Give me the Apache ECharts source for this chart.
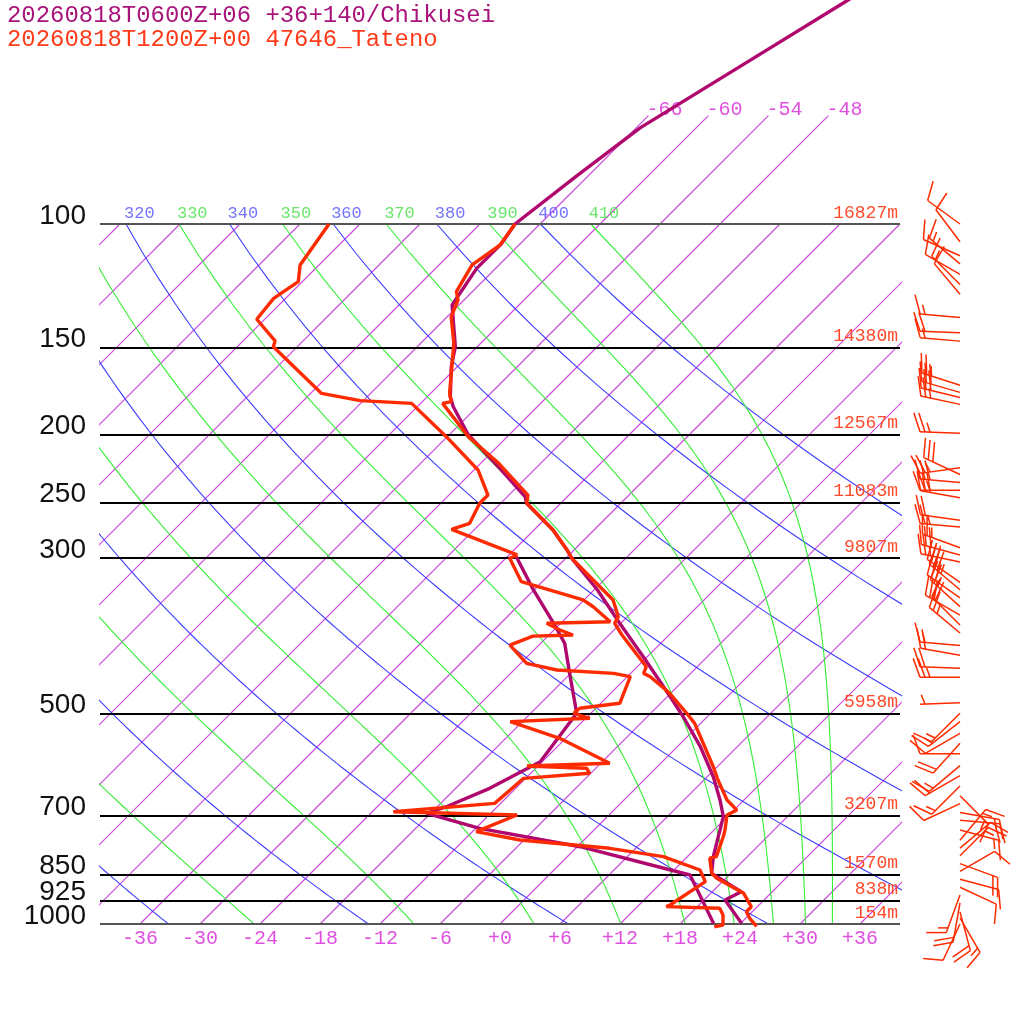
<!DOCTYPE html>
<html>
<head>
<meta charset="utf-8">
<script src="https://cdn.jsdelivr.net/npm/echarts@6/dist/echarts.min.js"></script>
<style>html,body{margin:0;padding:0;background:#fff}#chart{width:1024px;height:1024px}</style>
</head>
<body>
<div id="chart"></div>
<script>
const PURPLE = '#b0076e'
const RED = '#ff2b00'
const ISO_COLOR = '#cc44dc'
const ISO_LABEL = '#e050e0'
const DRY_COLOR = '#3c3cff'
const MOIST_COLOR = '#33ee33'
const MONO = 'Liberation Mono'

// axes / reference values
const tempTicks = [-36, -30, -24, -18, -12, -6, 0, 6, 12, 18, 24, 30, 36]
const pLevels = [100, 150, 200, 250, 300, 500, 700, 850, 925, 1000]
const heights = ['16827m', '14380m', '12567m', '11083m', '9807m', '5958m', '3207m', '1570m', '838m', '154m']
const topIsoT = [-66, -60, -54, -48]
const dryTheta = [240, 260, 280, 300, 320, 340, 360, 380, 400]
const moistTheta = [250, 270, 290, 310, 330, 350, 370, 390, 410]
const thetaLabels = [320, 330, 340, 350, 360, 370, 380, 390, 400, 410]

// Chikusei (model) profile
const chikuseiP = [47.1, 47.9, 59.1, 72.9, 85.1, 100, 106.6, 115.7, 130.5, 149.7, 159.9, 176.5, 182.4, 200, 222.2, 245.3, 250.6, 273.6, 292.2, 302, 333, 371.9, 415.1, 473.5, 505.7, 558, 616, 665, 702.5, 750.5, 801.3, 846.5, 899.4, 924, 998]
const chikuseiT = [-57.3, -57.6, -61.6, -65.6, -67.1, -68.5, -67.9, -67.9, -66.7, -62.2, -60.6, -57.7, -56.4, -52.1, -45.9, -40.2, -39.4, -34.1, -30.7, -29.1, -23.7, -18.1, -12.4, -5.7, -2.4, 2.3, 6.6, 9.6, 11.6, 13.1, 14.6, 16.1, 20.9, 20.1, 24.1]
const chikuseiTdP = [298.7, 333, 371.9, 397.2, 438.5, 500, 586.4, 640, 679.9, 694.9, 730, 775.5, 851.1, 998]
const chikuseiTd = [-35.1, -30.1, -24.7, -21.6, -18.1, -13.4, -12.2, -14.6, -17.1, -18.4, -11.6, 0.3, 14.1, 21.3]

// Tateno (radiosonde) profile
const tatenoP = [100, 107.2, 114.4, 124.9, 128.4, 135.7, 148, 174.6, 179.4, 180.4, 201.3, 219.7, 243.9, 250.6, 273.6, 292.2, 300.3, 344.4, 363.9, 371.9, 386.5, 429, 438.5, 443.3, 468.2, 500, 516.8, 596.1, 622.8, 665, 687.5, 698.7, 734, 750.5, 801.3, 805.4, 846.5, 860.3, 904, 944.6, 960.3, 981.4, 1008]
const tatenoT = [-68.5, -67.9, -68.7, -67.6, -66.6, -65.6, -62.7, -58.1, -57.1, -57.8, -51.9, -46.2, -40.1, -39.4, -34.1, -30.7, -29.4, -21.1, -18.9, -18.6, -16.7, -11.1, -10.7, -9.7, -6.1, -2.4, -0.6, 5.6, 7.4, 10.3, 12.3, 11.8, 13.1, 13.6, 14.9, 14.4, 16.1, 17.1, 21.3, 23.4, 23.4, 24.4, 25.9]
const tatenoTdP = [100, 114.4, 120.9, 127.7, 136.8, 146.9, 149.7, 174.6, 178.8, 180.4, 201.3, 224.6, 243.9, 250.6, 267.7, 273.1, 297, 300.3, 324.3, 344.4, 352.2, 370, 371.9, 380.2, 386.5, 387.9, 399.5, 424.3, 433.7, 438.5, 443.3, 483.8, 491.8, 500, 508.3, 514, 542.9, 589.4, 594.7, 599.2, 609.1, 619.3, 672.4, 691.2, 698.7, 738.1, 758.6, 779.6, 801.3, 837.3, 870, 939.5, 944.6, 949.7, 970.8, 1003.3, 1009]
const tatenoTd = [-87.1, -85.9, -84.4, -85.2, -84.8, -80.8, -80.4, -70.9, -66.3, -60.9, -54.1, -47.6, -44.1, -44.1, -43.1, -44.3, -35.2, -35.6, -32.1, -24.1, -22.4, -19.2, -25.4, -23.4, -21.6, -25.5, -26.9, -23.4, -19.7, -13.7, -11.7, -10.1, -13.6, -13.7, -11.6, -19.2, -12.6, -5.1, -13.1, -6.9, -6.1, -12.2, -12.6, -21.9, -9.2, -11.6, -6.4, 3.4, 9.6, 14.6, 16.3, 15.1, 14.9, 20.4, 21.4, 22.4, 21.7]

// Tateno winds (hPa, direction deg, speed kt)
const windP = [100, 106, 111, 114, 118, 122, 126, 136, 143, 147, 170, 174, 177, 181, 199, 223, 228, 234, 240, 246, 265, 271, 290, 297, 304, 325, 333, 342, 352, 362, 374, 384, 400, 413, 431, 444, 483, 500, 514, 534, 552, 571, 594, 614, 635, 656, 673, 693, 711, 734, 759, 779, 799, 820, 841, 863, 886, 909, 933, 961, 980, 1000]
const windDir = [306, 323, 294, 310, 300, 315, 320, 275, 272, 275, 288, 286, 284, 282, 272, 262, 295, 275, 270, 280, 278, 275, 290, 285, 282, 305, 310, 305, 312, 300, 315, 310, 275, 280, 272, 270, 268, 225, 232, 240, 222, 270, 230, 240, 225, 135, 245, 100, 95, 105, 40, 50, 45, 110, 60, 105, 115, 200, 190, 165, 150, 205]
const windSpd = [10, 10, 10, 15, 10, 15, 10, 15, 20, 15, 25, 30, 30, 25, 25, 25, 30, 30, 25, 30, 20, 25, 25, 30, 25, 30, 35, 30, 25, 30, 20, 25, 15, 20, 20, 25, 5, 15, 15, 10, 20, 10, 15, 20, 15, 15, 10, 15, 20, 15, 15, 10, 15, 20, 10, 10, 10, 15, 20, 20, 15, 10]

// skew: isotherms lean 45 degrees
const skewX = (t, p) => t + 70 * Math.log10(1000 / p)
const profile = (ps, ts) => ps.map((p, i) => [skewX(ts[i], p), p])

const esat = tc => 6.112 * Math.exp(17.67 * tc / (tc + 243.5))
function thetaE (tk, p) {
  const e = esat(tk - 273.15)
  if (e > 0.5 * p) return 1e9
  const r = 0.622 * e / (p - e)
  return tk * Math.pow(1000 / p, 0.2854 * (1 - 0.28 * r)) * Math.exp((3.376 / tk - 0.00254) * r * 1000 * (1 + 0.81 * r))
}
function moistT (te, p) {
  let lo = 120, hi = 340
  for (let i = 0; i < 50; i++) {
    const mid = (lo + hi) / 2
    if (thetaE(mid, p) > te) hi = mid
    else lo = mid
  }
  return (lo + hi) / 2 - 273.15
}
const dryT = (th, p) => th * Math.pow(p / 1000, 0.2857) - 273.15

const curveLevels = []
for (let p = 1000; p >= 100; p -= 10) curveLevels.push(p)

const bgLine = (data, color, extra) => Object.assign({
  type: 'line', data, symbol: 'none', silent: true, animation: false, z: 1,
  color, itemStyle: { color }, lineStyle: { color, width: 1.1 }
}, extra || {})

const series = []
for (let t = -108; t <= 36; t += 6) {
  series.push(bgLine([[skewX(t, 1000), 1000], [skewX(t, 100), 100]], ISO_COLOR))
}
topIsoT.forEach(t => {
  series.push(bgLine([[skewX(t, 100), 100], [skewX(t, 70), 70]], ISO_COLOR, {
    clip: false,
    endLabel: { show: true, formatter: () => String(t), color: ISO_LABEL, fontFamily: MONO, fontSize: 20, distance: 0, offset: [-2, -6] }
  }))
})
dryTheta.forEach(th => {
  series.push(bgLine(curveLevels.map(p => [skewX(dryT(th, p), p), p]), DRY_COLOR))
})
moistTheta.forEach(th => {
  series.push(bgLine(curveLevels.map(p => [skewX(moistT(th, p), p), p]), MOIST_COLOR))
})

series.push({
  type: 'scatter', symbolSize: 0, silent: true, clip: false, z: 5, animation: false,
  data: thetaLabels.map(th => {
    const dry = th % 20 === 0
    const t = dry ? dryT(th, 100) : moistT(th, 100)
    return {
      value: [skewX(t, 100), 100],
      label: { color: dry ? '#5050ff' : '#44e044' },
      name: String(th)
    }
  }),
  label: { show: true, position: 'right', distance: 0, offset: [-2, -11], fontFamily: MONO, fontSize: 17, formatter: p => p.name }
})

// isobars with pressure labels
series.push({
  type: 'line', data: [], silent: true, z: 3, animation: false,
  markLine: {
    silent: true, symbol: ['none', 'none'], animation: false,
    lineStyle: { color: '#000', width: 1.8, type: 'solid' },
    label: { show: true, position: 'start', distance: 14, offset: [0, -8], color: '#111', fontFamily: 'Liberation Sans', fontSize: 28, formatter: p => String(p.value) },
    data: pLevels.map(p => (p === 100 || p === 1000) ? { yAxis: p, lineStyle: { color: '#555', width: 2.2 } } : { yAxis: p })
  }
})
// geopotential heights
series.push({
  type: 'line', data: [], silent: true, z: 6, animation: false,
  markLine: {
    silent: true, symbol: ['none', 'none'], animation: false,
    lineStyle: { color: 'rgba(255,255,255,0)', width: 1, type: 'solid' },
    label: { show: true, position: 'insideEndTop', distance: 2, color: '#ff4a2a', fontFamily: MONO, fontSize: 18 },
    data: pLevels.map((p, i) => ({ yAxis: p, label: { show: true, formatter: heights[i] } }))
  }
})

const profLine = (data, color, z) => ({
  type: 'line', data, symbol: 'none', clip: false, z, animation: false,
  color, lineStyle: { color, width: 3.4 }
})
series.push(profLine(profile(chikuseiP, chikuseiT), PURPLE, 7))
series.push(profLine(profile(chikuseiTdP, chikuseiTd), PURPLE, 7))
series.push(profLine(profile(tatenoP, tatenoT), RED, 8))
series.push(profLine(profile(tatenoTdP, tatenoTd), RED, 8))

function renderBarb (params, api) {
  const base = api.coord([0, api.value(1)])
  const d = api.value(2) * Math.PI / 180
  let s = Math.round(api.value(3) / 5) * 5
  const ux = Math.sin(d)
  const uy = -Math.cos(d)
  const tip = [base[0] + ux * 40, base[1] + uy * 40]
  const a = 20 * Math.PI / 180
  const bx = -uy * Math.cos(a) + ux * Math.sin(a)
  const by = ux * Math.cos(a) + uy * Math.sin(a)
  const style = { stroke: RED, lineWidth: 1.5 }
  const kids = [{ type: 'line', shape: { x1: base[0], y1: base[1], x2: tip[0], y2: tip[1] }, style }]
  const at = k => [tip[0] - ux * k, tip[1] - uy * k]
  let pos = 0
  while (s >= 50) {
    const p0 = at(pos)
    const p1 = at(pos + 8)
    kids.push({ type: 'polygon', shape: { points: [p0, [p0[0] + bx * 20, p0[1] + by * 20], p1] }, style: { fill: RED } })
    pos += 10
    s -= 50
  }
  while (s >= 10) {
    const p0 = at(pos)
    kids.push({ type: 'line', shape: { x1: p0[0], y1: p0[1], x2: p0[0] + bx * 20, y2: p0[1] + by * 20 }, style })
    pos += 5
    s -= 10
  }
  if (s >= 5) {
    if (pos === 0) pos = 5
    const p0 = at(pos)
    kids.push({ type: 'line', shape: { x1: p0[0], y1: p0[1], x2: p0[0] + bx * 10, y2: p0[1] + by * 10 }, style })
  }
  return { type: 'group', children: kids }
}

series.push({
  type: 'custom', xAxisIndex: 1, yAxisIndex: 1, clip: false, silent: true, animation: false, z: 8,
  data: windP.map((p, i) => [0, p, windDir[i], windSpd[i]]),
  encode: { x: 0, y: 1 },
  renderItem: renderBarb
})

const chart = echarts.init(document.getElementById('chart'))
chart.setOption({
  backgroundColor: '#fff',
  animation: false,
  grid: [
    { left: 100, right: 124, top: 224, bottom: 100, outerBoundsMode: 'none' },
    { left: 940, width: 40, top: 224, bottom: 100, outerBoundsMode: 'none' }
  ],
  xAxis: [{
    type: 'value', min: -40, max: 40, gridIndex: 0,
    axisLine: { show: false }, axisTick: { show: false }, splitLine: { show: false },
    axisLabel: {
      customValues: tempTicks, margin: 5, color: ISO_LABEL, fontFamily: MONO, fontSize: 20,
      formatter: v => (v >= 0 ? '+' : '') + v
    }
  }, {
    type: 'value', min: -1, max: 1, gridIndex: 1, show: false
  }],
  yAxis: [{
    type: 'log', logBase: 10, min: 100, max: 1000, inverse: true, gridIndex: 0, show: false
  }, {
    type: 'log', logBase: 10, min: 100, max: 1000, inverse: true, gridIndex: 1, show: false
  }],
  graphic: [
    { type: 'text', x: 7, y: 4, scaleX: 1.04, silent: true, style: { text: '20260818T0600Z+06 +36+140/Chikusei', fill: '#a8127a', font: '23px "Liberation Mono"' } },
    { type: 'text', x: 7, y: 28, scaleX: 1.04, silent: true, style: { text: '20260818T1200Z+00 47646_Tateno', fill: '#ff3a18', font: '23px "Liberation Mono"' } }
  ],
  series
})
</script>
</body>
</html>
